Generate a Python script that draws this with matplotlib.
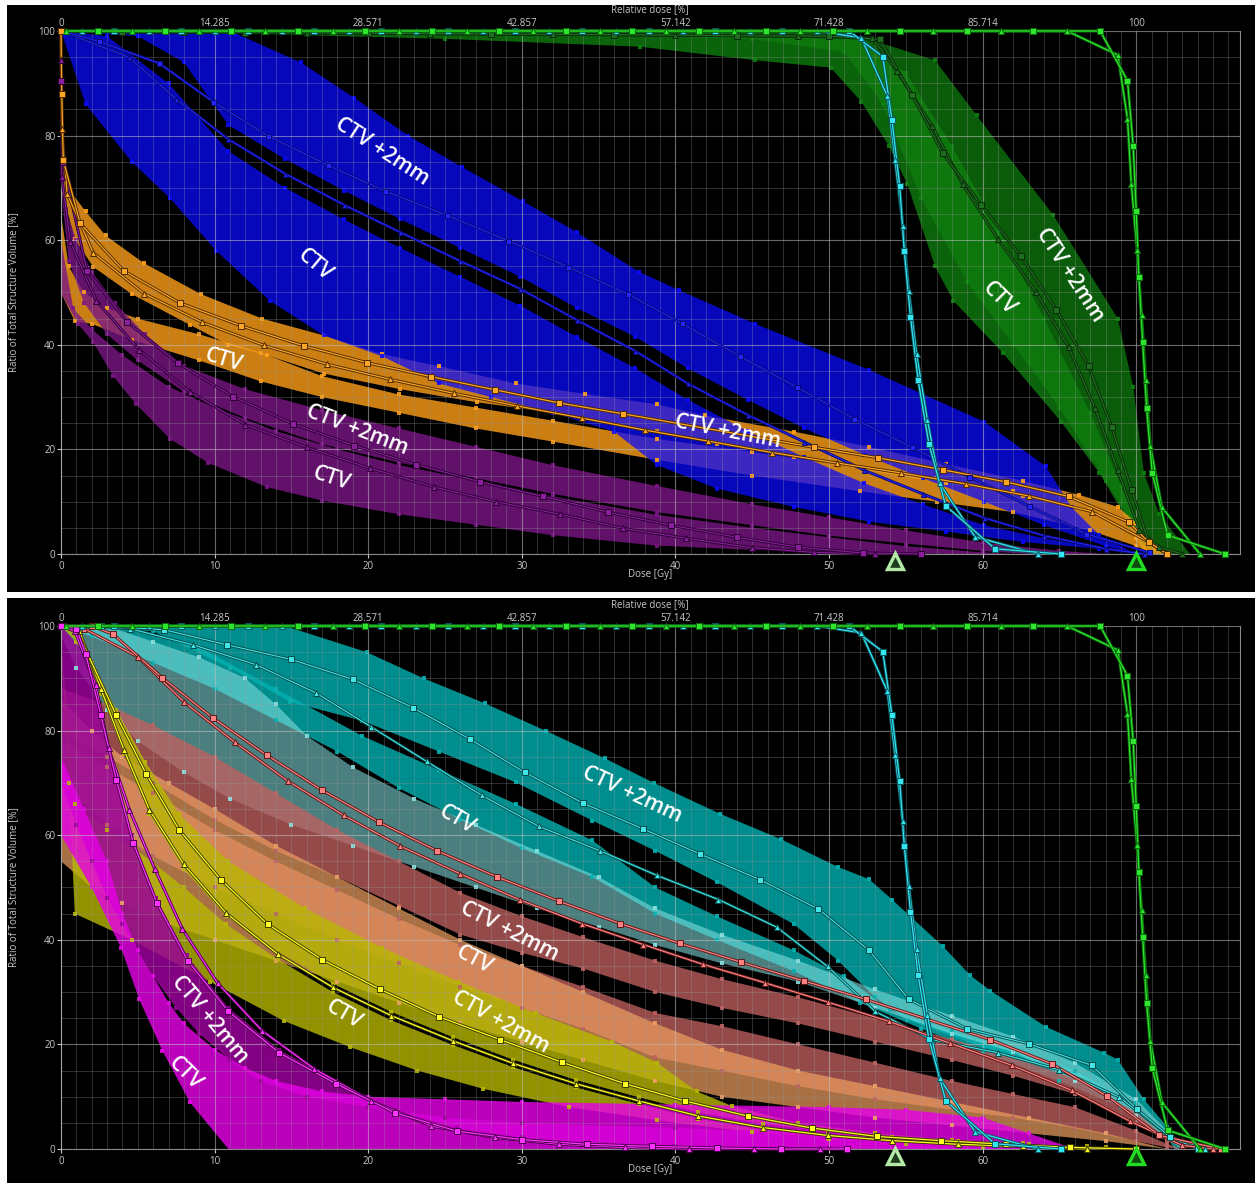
import numpy as np
import matplotlib.pyplot as plt
import matplotlib.patheffects as pe
from matplotlib.patches import Rectangle
from matplotlib.ticker import MultipleLocator

plt.rcParams['font.family'] = ['Open Sans', 'DejaVu Sans']

# ---------------- data: (dose Gy, volume %) ----------------
rel_ticks = [0, 14.285, 28.571, 42.857, 57.142, 71.428, 85.714, 100]
rel_labels = ['0', '14.285', '28.571', '42.857', '57.142', '71.428', '85.714', '100']
presc_doses = [54.3, 70.0]

# lines shared by both panels
green_sq = [(2.4, 100), (6.75, 100), (11.1, 100), (15.45, 100), (19.8, 100), (24.15, 100), (28.5, 100),
            (32.85, 100), (37.2, 100), (41.55, 100), (45.9, 100), (50.25, 100), (54.6, 100), (58.95, 100),
            (63.3, 100), (67.65, 100), (69.43, 90.5), (69.8, 78), (70.0, 65.5), (70.17, 53), (70.42, 40.5),
            (70.67, 28), (71.04, 15.5), (72.04, 3.6), (75.77, 0)]
green_tri = [(0.3, 100), (4.6, 100), (9.0, 100), (13.3, 100), (17.7, 100), (22.0, 100), (26.4, 100),
             (30.7, 100), (35.1, 100), (39.4, 100), (43.8, 100), (48.1, 100), (52.5, 100), (56.8, 100),
             (61.2, 100), (65.5, 100), (68.8, 95.4), (69.43, 83.2), (69.68, 70.7), (70.05, 58.2),
             (70.35, 45.7), (70.62, 33.2), (70.92, 20.7), (71.67, 8.9), (74.15, 0)]
cyan_sq = [(3.45, 100), (7.8, 100), (12.15, 100), (16.5, 100), (20.85, 100), (25.2, 100), (29.55, 100),
           (33.9, 100), (38.25, 100), (42.6, 100), (46.95, 100), (51.3, 100), (53.5, 95.1), (54.1, 82.9),
           (54.6, 70.4), (54.9, 57.9), (55.3, 45.4), (55.8, 33.2), (56.5, 21.1), (57.6, 9.2), (60.8, 1),
           (65.1, 0)]
cyan_tri = [(1.35, 100), (5.7, 100), (10.05, 100), (14.4, 100), (18.75, 100), (23.1, 100), (27.45, 100),
            (31.8, 100), (36.15, 100), (40.5, 100), (44.85, 100), (49.2, 100), (52.1, 98.7), (53.8, 87.5),
            (54.3, 75.3), (54.8, 62.8), (55.2, 50.3), (55.7, 38.2), (56.4, 25.7), (57.2, 13.5), (59.5, 3.3),
            (63.6, 0)]

# top panel lines
dkgreen_sq = [(0, 100), (4, 99.8), (12, 99.7), (20, 99.6), (28, 99.4), (36, 99.3), (44, 99.1), (50, 99),
              (53.3, 98.4), (55.4, 87.8), (57.4, 76.6), (59.9, 66.8), (62.5, 56.9), (64.8, 46.7),
              (66.9, 35.9), (68.4, 24.3), (69.7, 12.2), (70.8, 2.3), (72, 0)]
dkgreen_tri = [(0, 100), (8, 99.8), (16, 99.6), (24, 99.5), (32, 99.4), (40, 99.2), (48, 99), (52.8, 98.7),
               (54.4, 92.4), (56.7, 81.9), (58.7, 70.7), (61, 60.2), (63.5, 50), (65.6, 39.5), (67.3, 28),
               (68.8, 16), (70.2, 4.6), (71.5, 1.3), (73, 0)]
blue_sq = [(0, 100), (2.5, 98), (6.4, 93.8), (9.9, 86.5), (13.5, 79.9), (17.4, 74.3), (21.1, 69.4),
           (25.1, 64.8), (29.1, 59.9), (33, 54.9), (36.9, 49.7), (40.4, 44.1), (44.2, 37.8), (47.9, 31.9),
           (51.6, 25.9), (55.4, 20.4), (59.1, 14.8), (63, 9.2), (66.7, 3.9), (70.8, 0.3)]
blue_tri = [(0, 100), (4.4, 95), (7.5, 87), (10.9, 79.3), (14.6, 72.7), (18.4, 66.8), (22.1, 61.5),
            (26, 56), (29.9, 50.7), (33.6, 44.7), (37.4, 38.8), (40.8, 32.6), (44.7, 26.6), (48.4, 21.4),
            (52.3, 16), (56.1, 11.5), (60.1, 6.9), (64, 3.5), (68, 1), (70.5, 0)]
orange_sq = [(0, 100), (0.05, 88), (0.15, 75.3), (1.25, 63.2), (4.1, 54.1), (7.75, 48), (11.75, 43.6),
             (15.8, 39.8), (19.9, 36.6), (24.1, 33.9), (28.25, 31.4), (32.4, 28.9), (36.6, 26.8), (49, 20.4),
             (53.2, 18.4), (57.4, 16.1), (61.5, 13.8), (65.6, 11), (69.5, 6.1), (70.8, 2.3), (72, 0)]
orange_tri = [(0, 100), (0.05, 81.3), (0.4, 68.9), (2.1, 57.6), (5.4, 49.8), (9.2, 44.3), (13.2, 39.9),
              (17.3, 36.3), (21.4, 33.4), (25.6, 30.7), (29.7, 28.3), (33.9, 26), (38, 23.7), (42.1, 21.6),
              (46.3, 19.4), (50.5, 17.4), (54.7, 15.5), (58.9, 13.4), (63, 11.1), (67.1, 8.1), (70.8, 2.3),
              (72, 0)]
purple_sq = [(0, 100), (0.02, 90.5), (0.1, 75), (1.7, 54.1), (4.3, 44.4), (7.6, 36.5), (11.2, 30.1),
             (15.1, 24.9), (19.1, 20.7), (23.1, 17.1), (27.3, 13.8), (31.4, 11), (35.6, 8), (39.7, 5.5),
             (44, 3.2), (48, 1.3), (52.2, 0.2), (56, 0)]
purple_tri = [(0, 100), (0.02, 94.4), (0.05, 72), (0.6, 59.7), (2.3, 48.4), (5.1, 39), (8.4, 31), (12, 24.7),
              (16, 20.4), (20.1, 16.4), (24.3, 12.8), (28.3, 10), (32.5, 7.6), (36.6, 4.9), (40.7, 3),
              (45, 1.2), (49, 0.3), (53, 0)]

# top panel bands (upper edge, lower edge)
green_ctv_up = [(0, 100), (45, 99.5), (52, 98.5), (55, 92), (58, 78), (61, 62), (64, 45), (67, 27), (69, 13),
                (70.5, 4), (71.5, 0)]
green_ctv_lo = [(0, 100), (12, 99.5), (25, 98.5), (37.7, 97), (45.2, 94.4), (50.1, 93), (52.1, 86.5),
                (53.9, 78), (55.1, 70.7), (56.9, 55), (58.1, 48.4), (61.3, 38.5), (65.1, 25.3), (67.6, 15.5),
                (69.6, 5.6), (70.5, 0)]
green_p2_up = [(0, 100), (50.9, 100), (56.9, 94.4), (59.6, 83.9), (64.6, 64.8), (68.8, 45), (69.8, 32),
               (70.5, 15.5), (71.5, 7.6), (73.5, 0)]
green_p2_lo = [(0, 100), (30, 99.5), (45, 98.5), (51, 96), (53.5, 86), (56, 68), (59, 52), (62, 40),
               (65, 28), (68, 14), (70, 5), (71.5, 0)]
blue_p2_up = [(0, 100), (11.4, 99.5), (15.6, 94), (19.1, 87.2), (22.6, 80), (26.1, 74), (30.1, 67.4),
              (33.6, 61.5), (37.6, 54), (40.2, 50.5), (45.2, 44), (52.6, 35.2), (60.1, 25.3), (64.1, 16.8),
              (65.8, 8.9), (67.6, 3.6), (70, 0)]
blue_p2_lo = [(0, 100), (5, 99), (8, 94), (10.9, 82), (14.6, 75.5), (18.4, 69.5), (22.1, 64), (26, 58.5),
              (29.9, 53), (33.6, 47), (37.4, 41.5), (40.8, 35.5), (44.7, 29.5), (48.4, 24), (52.3, 19),
              (56.1, 14.5), (60.1, 10), (64, 5.5), (68, 1.5), (70, 0)]
blue_ctv_up = [(0, 100), (3, 99), (7, 90), (10.9, 77), (14.6, 70), (18.4, 64), (22.1, 58.5), (26, 53),
               (29.9, 47.5), (33.6, 41.5), (37.4, 35.5), (40.8, 29.5), (44.7, 23.5), (48.4, 18.5),
               (52.3, 13.5), (56.1, 9.5), (60.1, 5.5), (64, 3), (68, 1), (70.5, 0)]
blue_ctv_lo = [(0, 100), (1.6, 86), (4.6, 75), (7.1, 68), (10.1, 58), (13.6, 48.4), (17.1, 41.8),
               (20.9, 37.8), (24.6, 32.6), (28, 30), (32, 27), (36, 23.4), (38.8, 17), (42.7, 12.5),
               (47.7, 9), (52.6, 6.2), (57.6, 4.3), (62.6, 2.3), (67.6, 1), (70.8, 0)]
orange_p2_up = [(0, 100), (0.05, 75), (0.6, 69.4), (1.6, 65.5), (2.9, 60.9), (5.4, 55.6), (9.1, 49.7),
                (13.1, 45), (17.1, 41.8), (20.9, 38.2), (24.6, 35.9), (29.6, 32.6), (34.1, 30.6),
                (38.8, 28.6), (41.9, 26.5), (47.7, 23.4), (52.6, 20.5), (57.6, 17.2), (62.6, 14),
                (66.3, 11.3), (68.8, 9), (70, 6), (71.3, 1), (72, 0)]
orange_p2_lo = [(0, 100), (0.1, 69), (0.9, 60.2), (2.1, 54.9), (4.6, 49.7), (8.4, 43.8), (10.9, 40),
                (13.4, 38), (17.1, 34.5), (22.1, 31.5), (27.1, 29), (32.1, 27), (38.8, 23.5), (42.7, 21),
                (47.7, 18.5), (52.6, 16), (57.6, 13.5), (62.6, 11), (67.6, 7.5), (70, 3), (70.8, 0)]
orange_ctv_up = [(0, 65), (0.5, 55), (1.5, 50), (3, 47), (5, 45), (9, 42), (13, 38.5), (17, 34), (22, 30.5),
                 (27, 28), (32, 25.5), (38.8, 22), (45, 19.5), (52, 16.5), (57, 14.5), (62, 12), (67, 8.5),
                 (70, 3), (71, 0)]
orange_ctv_lo = [(0, 50), (0.9, 44.5), (2, 44), (4.6, 41), (9, 37), (13, 33), (17, 30), (22, 27), (27, 24),
                 (32, 21.5), (38.8, 18), (45, 15), (52, 12), (57, 10), (62, 8), (67, 4.5), (70, 1.5), (71, 0)]
purple_p2_up = [(0, 82), (0.3, 66), (1, 60), (2, 54), (3.5, 48), (5.5, 42), (8, 36), (12, 31.5), (17, 27.5),
                (22, 24), (27, 20.5), (32, 17), (38.8, 13), (45, 9.5), (50, 7), (55, 4.5), (60, 2.2),
                (65, 0.6), (68, 0)]
purple_p2_lo = [(0, 70), (0.5, 56), (1.5, 48), (3, 42), (5, 37), (8, 31), (12, 26), (17, 21), (22, 17.5),
                (27, 14.5), (32, 11.5), (38.8, 8), (45, 5.5), (50, 3.5), (55, 2), (60, 0.6), (63, 0)]
purple_ctv_up = [(0, 60), (0.8, 47), (2, 43), (4, 38), (7, 32), (10, 28), (14, 23.5), (18, 20), (22, 17),
                 (27, 14), (32, 11), (38.8, 7.5), (45, 5), (50, 3.2), (55, 1.5), (60, 0.3), (62, 0)]
purple_ctv_lo = [(0, 50), (1.1, 44), (2.1, 40.5), (3.4, 34), (4.9, 28.6), (7.1, 22), (9.6, 17.4),
                 (13.4, 12.8), (17, 10.2), (22, 7.6), (27, 5.6), (32, 3.6), (38.8, 1.6), (45, 0.8),
                 (52, 0.3), (58, 0)]

# bottom panel lines
cyan2_sq = [(0, 100), (2.6, 100), (6.7, 99.3), (10.8, 96.4), (15, 93.6), (19, 89.8), (22.9, 84.4),
            (26.6, 78.4), (30.2, 72), (34, 66.1), (37.9, 61.2), (41.6, 56.4), (45.5, 51.5), (49.3, 45.9),
            (52.6, 38), (55.2, 28.6), (59, 23), (63, 20.1), (67.1, 16), (70.05, 7.6), (72.2, 2.3), (74, 0)]
cyan2_tri = [(0, 100), (4.5, 99.5), (8.6, 96.4), (12.7, 92.6), (16.6, 87.2), (20.2, 80.7), (23.8, 74.1),
             (27.4, 67.6), (31.1, 61.7), (35.1, 57), (38.8, 52.3), (42.8, 47.7), (46.6, 42.4), (49.9, 34.9),
             (53, 26.3), (56.7, 20.9), (61, 18.4), (65, 15.1), (68.9, 9.9), (72.2, 2.3), (74.5, 0)]
salmon_sq = [(0, 100), (2, 100), (3.4, 98.4), (6.6, 90.1), (9.9, 82.4), (13.4, 75.3), (17, 68.6), (20.7, 62.5),
             (24.5, 57), (28.4, 52), (32.4, 47.4), (36.4, 43.1), (40.3, 39.3), (44.3, 35.7), (48.4, 32.1),
             (52.4, 28.6), (60.5, 20.9), (64.5, 16.3), (68.1, 10.1), (71.5, 2.6), (75.5, 0)]
salmon_tri = [(0, 100), (1.5, 99.5), (5, 94.1), (8, 85.5), (11.3, 77.8), (14.75, 70.4), (18.4, 63.8),
              (22.1, 57.9), (26, 52.6), (29.9, 47.6), (33.9, 43.1), (37.9, 39.1), (41.8, 35.3), (45.8, 31.8),
              (49.9, 28.1), (53.9, 24.4), (57.9, 20.2), (61.9, 16), (65.8, 11.2), (69.6, 5.3), (73, 0.7),
              (75, 0)]
yellow_sq = [(0, 100), (1, 99.3), (3.6, 82.9), (5.55, 71.7), (7.7, 61), (10.4, 51.5), (13.45, 43), (17, 36.2),
             (20.8, 30.5), (24.6, 25.3), (28.6, 20.9), (32.6, 16.6), (36.7, 12.5), (40.6, 9.2), (44.7, 6.3),
             (48.9, 4), (53.1, 2.4), (57.3, 1.6), (61.5, 0.9), (65.7, 0.3), (70, 0)]
yellow_tri = [(0, 100), (1.2, 99), (2.6, 88), (4.1, 76.3), (5.75, 64.9), (8, 54.4), (10.75, 45.1),
              (14.1, 37.3), (17.7, 30.9), (21.5, 25.5), (25.5, 20.7), (29.4, 16.4), (33.5, 12.5), (37.6, 9.2),
              (41.5, 6.3), (45.7, 4.1), (49.9, 2.6), (54.1, 1.6), (58.4, 0.9), (62.6, 0.5), (66.8, 0)]
magenta_sq = [(0, 100), (1.0, 99.5), (1.6, 94.7), (2.6, 82.9), (3.6, 70.6), (4.7, 58.6), (6.25, 47),
              (8.25, 36), (10.9, 26.3), (14.2, 18.4), (17.9, 12.5), (21.75, 6.9), (25.8, 3.4), (30, 1.8),
              (34.25, 0.9), (38.5, 0.5), (42.7, 0.2), (46.9, 0), (51.2, 0)]
magenta_tri = [(0, 100), (0.9, 99), (2.25, 88.8), (3.1, 76.6), (4.45, 64.9), (6.1, 53.6), (7.9, 42.1),
               (10.2, 31.7), (13.1, 22.6), (16.5, 15.3), (20.2, 9.2), (24.1, 4.4), (28.25, 2.2), (32.45, 0.9),
               (36.7, 0.3), (40.9, 0), (45.1, 0), (49.4, 0)]

# bottom panel bands
teal_p2_up = [(0, 100), (14.6, 100), (19.9, 95), (23.6, 90), (27.6, 85.2), (31.6, 79.9), (35.4, 74.7),
              (38.6, 70), (42.9, 64.1), (46.9, 59.2), (50.6, 53.9), (52.6, 51.6), (54.1, 47.7), (57.4, 38.8),
              (59.2, 33.2), (60.5, 30.3), (64.1, 23.4), (67.9, 18.4), (68.8, 17.1), (70.5, 9.5), (72, 4.3),
              (73, 0)]
teal_p2_lo = [(0, 100), (6, 99), (11, 92), (14.9, 85.5), (19.6, 81.9), (24.6, 76), (29.6, 70.1), (34.6, 62.8),
              (38.7, 57), (42.7, 51), (47.7, 43), (50.6, 36), (53, 29), (55.1, 24.7), (60.1, 19.4),
              (65.1, 14.8), (70, 8.9), (72, 2.3), (72.5, 0)]
teal_ctv_up = [(0, 100), (4, 100), (9, 96), (14, 88), (19.6, 79), (24.6, 72.5), (29.6, 66), (34.6, 59),
               (38.7, 50), (42.7, 44.5), (47.7, 38), (51, 33), (54, 26.5), (58, 22.5), (62, 19), (66, 15),
               (70, 8.5), (72, 3), (73, 0)]
teal_ctv_lo = [(0, 100), (2, 98), (6, 93), (10, 88), (14, 82), (18, 76), (22, 69), (26, 63), (30, 57.5),
               (34.6, 52), (38.7, 45), (42.7, 40), (47.7, 34), (52, 28), (56, 23), (60, 18.5), (65, 13),
               (69, 8), (72, 2), (73, 0)]
ltcyan_up = [(0, 100), (3, 100), (6, 97), (9, 94), (12, 90), (14, 85), (16, 79), (19, 73), (23, 67), (27, 62),
             (31, 57), (35, 52), (38.7, 46), (43, 41), (48, 36), (53, 30.5), (58, 25.5), (62, 21.5),
             (66, 16.5), (70, 9.5), (72, 3.5), (73, 0)]
ltcyan_lo = [(0, 98), (1, 92), (3, 84), (5, 78), (8, 72), (11, 67), (15, 62), (19, 58), (23, 54), (27, 50),
             (31, 46), (35, 42.5), (38.7, 39), (43, 35.5), (48, 32), (53, 27), (58, 22), (62, 18.5),
             (66, 13), (70, 6.5), (72, 2), (73, 0)]
salmon_p2_up = [(0, 88), (3, 85), (6, 81), (10, 75), (14, 68), (18, 61), (22, 55), (26, 49), (30, 44.5),
                (34, 40.5), (38.7, 36), (43, 32.5), (48, 29), (53, 25), (58, 21), (62, 17.5), (66, 13.5),
                (70, 7), (72, 2), (73.5, 0)]
salmon_p2_lo = [(0, 80), (3, 75), (6, 70), (10, 63), (14, 57), (18, 52), (22, 46.5), (26, 41), (30, 37.5),
                (34, 34.5), (38.7, 30), (43, 27), (48, 24), (53, 20.5), (58, 17), (62, 14), (66, 10.5),
                (70, 5), (72, 1.5), (73.5, 0)]
salmon_ctv_up = [(0, 78), (3, 73), (6, 68), (10, 61), (14, 55), (18, 49.5), (22, 44), (26, 39), (30, 35),
                 (34, 31), (38.7, 26), (43, 23.5), (48, 20), (53, 16.5), (58, 13), (62, 10.5), (66, 8),
                 (70, 3.5), (72, 1), (73, 0)]
salmon_ctv_lo = [(0, 70), (3, 62), (6, 56), (10, 50), (14, 45), (18, 40), (22, 35.5), (26, 31), (30, 27),
                 (34, 23), (38.7, 17.5), (43, 15), (48, 12), (53, 9.5), (58, 7.5), (62, 6), (66, 4),
                 (70, 1.5), (72, 0.3), (73, 0)]
peach_up = [(0, 86), (2, 80), (4, 75), (7, 70), (10, 65), (14, 58), (18, 52), (22, 46), (26, 40), (30, 35),
            (34, 30), (38.7, 24), (43, 19), (48, 15), (53, 12), (58, 9), (63, 6), (68, 3), (72, 0)]
peach_lo = [(0, 55), (2, 50), (4, 47), (7, 43), (10, 40), (14, 36), (18, 32), (22, 28), (26, 24), (30, 20.5),
            (34, 17), (38.7, 13), (43, 10), (48, 8), (53, 6), (58, 4.5), (63, 3), (68, 1.5), (72, 0)]
yellow_p2_up = [(0, 100), (1, 99), (2, 93), (3.6, 84), (5.5, 74), (7.7, 64), (10.9, 55), (15.9, 46),
                (20.9, 38.5), (25.9, 32), (30.9, 26), (35.9, 20.5), (38.8, 16.5), (41.4, 11), (43.7, 8.2),
                (48, 5), (53, 3), (58, 1.8), (63, 1), (68, 0.3), (70, 0)]
yellow_p2_lo = [(0, 100), (1, 97), (2.6, 87), (4.1, 75.5), (5.75, 64), (8, 53.5), (10.75, 44.5), (14.1, 37.8),
                (17.7, 31.6), (21.5, 26.2), (25.5, 21.4), (29.4, 17.1), (33.5, 13.2), (37.6, 9.9), (41.5, 7),
                (45.7, 4.8), (49.9, 3.3), (54.1, 2.3), (58.4, 1.6), (62.6, 1.1), (66.8, 0.5), (70, 0)]
yellow_ctv_up = [(0, 97), (0.9, 66), (3, 61), (5.9, 55), (8, 50), (10.75, 43), (14.1, 36.3), (17.7, 30),
                 (21.5, 24.6), (25.5, 19.9), (29.4, 15.7), (33.5, 11.8), (37.6, 8.6), (41.5, 5.8), (45.7, 3.6),
                 (49.9, 2.1), (54.1, 1.1), (58.4, 0.5), (62, 0)]
yellow_ctv_lo = [(0, 97), (0.5, 70), (0.9, 45), (4.6, 40), (9.7, 32), (14.5, 24.5), (18.8, 19.5), (23.2, 15),
                 (27.5, 11.5), (33.1, 8), (38.8, 5.5), (45, 3.2), (50, 2), (55, 1), (60, 0.4), (62, 0)]
magenta_p2_up = [(0, 100), (1.5, 95), (2.5, 84), (3.5, 72), (4.6, 60), (6.2, 48), (8.2, 37), (10.9, 27),
                 (14.2, 19), (17.9, 13), (21.75, 7.5), (25.8, 4), (30, 2.2), (34, 1.2), (40, 0.5), (50, 0.2),
                 (55, 0)]
magenta_p2_lo = [(0, 70), (1, 62), (2, 55), (3, 48), (4, 43), (5, 38), (6, 33), (7.5, 27), (9, 22), (11, 17),
                 (13, 13), (16, 10), (20, 8), (25, 6), (30, 5), (40, 4), (50, 3), (60, 1.5), (64, 0)]
magenta_ctv_up = [(0, 75), (1.5, 65), (3, 55), (4, 45), (5, 38), (6, 33), (7, 28), (8, 24), (10, 19),
                  (12, 15.5), (14, 13), (17, 11), (20, 10), (25, 9.5), (30, 9), (40, 8.5), (50, 8), (55, 7.5),
                  (60, 6), (63, 3), (66, 0)]
magenta_ctv_lo = [(0, 60), (2, 50), (3.9, 38.5), (5.1, 28.6), (6.6, 18.8), (8.4, 8.9), (10.9, 0)]

# ---------------- drawing helpers ----------------
TXT = '#c8c8c8'


def band(ax, up, lo, color, alpha=0.78):
    u = np.array(up, float)
    l = np.array(lo, float)
    ax.fill(np.r_[u[:, 0], l[::-1, 0]], np.r_[u[:, 1], l[::-1, 1]], color=color, alpha=alpha, lw=0, zorder=1)
    # small outline markers on the band edges, as the planning software draws them
    for e in (u, l):
        ax.plot(e[1:-1, 0], e[1:-1, 1], ls='none', marker='s', ms=2.4, mew=0, color=color, alpha=0.9, zorder=1.5)


def dvh(ax, pts, color, edge, marker, ms=4.6, lw=0.9, z=4):
    p = np.array(pts, float)
    ax.plot(p[:, 0], p[:, 1], color=color, lw=lw, zorder=z, clip_on=False,
            path_effects=[pe.Stroke(linewidth=lw + 1.3, foreground=edge), pe.Normal()])
    ax.plot(p[:, 0], p[:, 1], ls='none', marker=marker, ms=ms, mfc=color, mec=edge, mew=0.7,
            zorder=z + 0.1, clip_on=False)


def label(ax, d, v, s, rot):
    ax.text(d, v, s, rotation=rot, rotation_mode='anchor', ha='center', va='center', color='white',
            fontsize=15, fontweight='semibold', zorder=8)


def setup(ax):
    ax.set_facecolor('black')
    ax.set_xlim(0, 76.75)
    ax.set_ylim(0, 100)
    ax.xaxis.set_major_locator(MultipleLocator(10))
    ax.xaxis.set_minor_locator(MultipleLocator(1))
    ax.yaxis.set_major_locator(MultipleLocator(20))
    ax.yaxis.set_minor_locator(MultipleLocator(5))
    ax.set_axisbelow(False)
    ax.grid(which='minor', color='#9a9a9a', lw=0.6, alpha=0.35, zorder=2)
    ax.grid(which='major', color='#c0c0c0', lw=0.8, alpha=0.55, zorder=2)
    ax.spines['top'].set_visible(False)
    for s in ['left', 'bottom', 'right']:
        ax.spines[s].set_color('#8a8a8a')
        ax.spines[s].set_linewidth(0.8)
    ax.tick_params(which='major', colors=TXT, labelsize=7, length=3, width=0.8, pad=2)
    ax.tick_params(which='minor', length=0)
    ax.tick_params(axis='y', pad=1)
    sec = ax.secondary_xaxis('top', functions=(lambda d: d / 70 * 100, lambda r: r * 70 / 100))
    sec.set_xticks(rel_ticks, rel_labels)
    sec.tick_params(colors=TXT, labelsize=7, length=0, pad=1.5)
    sec.spines['top'].set_visible(False)
    ax.text(0.4996, 1.041, 'Relative dose [%]', transform=ax.transAxes, ha='center', va='center',
            color=TXT, fontsize=7)
    ax.text(0.4996, -0.039, 'Dose [Gy]', transform=ax.transAxes, ha='center', va='center',
            color=TXT, fontsize=7)
    ax.text(-0.0402, 0.5, 'Ratio of Total Structure Volume [%]', transform=ax.transAxes, ha='center',
            va='center', rotation=90, color=TXT, fontsize=7)


def shared_lines(ax):
    dvh(ax, cyan_tri, '#33e6f0', '#0b5560', '^', z=5)
    dvh(ax, cyan_sq, '#33e6f0', '#0b5560', 's', z=5)
    dvh(ax, green_tri, '#2ee62e', '#0b6a0b', '^', z=5.5)
    dvh(ax, green_sq, '#2ee62e', '#0b6a0b', 's', z=5.5)
    for d, fc, ec in zip(presc_doses, ['#1d3a1d', '#0d4d0d'], ['#b4eaa8', '#22dd22']):
        ax.plot([d], [-1.3], marker='^', ms=12, mfc=fc, mec=ec, mew=2.4, clip_on=False, zorder=9)


# ---------------- figure ----------------
fig = plt.figure(figsize=(12.55, 11.83), dpi=100)
fig.patch.set_facecolor('white')
fig.add_artist(Rectangle((0.0056, 0.4996), 0.9944, 0.4962, transform=fig.transFigure,
                         facecolor='black', edgecolor='none', zorder=-10))
fig.add_artist(Rectangle((0.0056, 0.0), 0.9944, 0.4945, transform=fig.transFigure,
                         facecolor='black', edgecolor='none', zorder=-10))

ax1 = fig.add_axes([0.0486, 0.5317, 0.9394, 0.4421])
ax2 = fig.add_axes([0.0486, 0.02874, 0.9394, 0.4421])
setup(ax1)
setup(ax2)

# top panel
band(ax1, green_ctv_up, green_ctv_lo, '#0f800f', 0.78)
band(ax1, green_p2_up, green_p2_lo, '#0f800f', 0.72)
band(ax1, orange_p2_up, orange_p2_lo, '#ffa019', 0.8)
band(ax1, orange_ctv_up, orange_ctv_lo, '#ffa019', 0.8)
band(ax1, blue_p2_up, blue_p2_lo, '#0a0aff', 0.74)
band(ax1, blue_ctv_up, blue_ctv_lo, '#0a0aff', 0.74)
band(ax1, purple_p2_up, purple_p2_lo, '#7a1686', 0.8)
band(ax1, purple_ctv_up, purple_ctv_lo, '#7a1686', 0.8)

dvh(ax1, dkgreen_tri, '#1f6e1f', '#0a2a0a', '^', ms=4.6, lw=0.9)
dvh(ax1, dkgreen_sq, '#1f6e1f', '#0a2a0a', 's', ms=4.6, lw=0.9)
dvh(ax1, blue_tri, '#2424ff', '#0a0a70', '^', ms=3.6, lw=0.8)
dvh(ax1, blue_sq, '#2424ff', '#0a0a70', 's', ms=3.6, lw=0.8)
dvh(ax1, purple_tri, '#8a1f9c', '#2a0030', '^', ms=3.8, lw=0.8)
dvh(ax1, purple_sq, '#8a1f9c', '#2a0030', 's', ms=4.2, lw=0.8)
dvh(ax1, orange_tri, '#ffa526', '#4a2a00', '^', ms=5)
dvh(ax1, orange_sq, '#ffa526', '#4a2a00', 's', ms=5)
shared_lines(ax1)

label(ax1, 20.9, 76.9, 'CTV +2mm', -33)
label(ax1, 16.5, 55.3, 'CTV', -40)
label(ax1, 10.6, 37.1, 'CTV', -17)
label(ax1, 19.3, 23.7, 'CTV +2mm', -21)
label(ax1, 17.6, 14.5, 'CTV', -18)
label(ax1, 43.4, 23.3, 'CTV +2mm', -11)
label(ax1, 61.1, 48.9, 'CTV', -45)
label(ax1, 65.7, 53.3, 'CTV +2mm', -57)

# bottom panel
band(ax2, teal_p2_up, teal_p2_lo, '#00b2b2', 0.8)
band(ax2, teal_ctv_up, teal_ctv_lo, '#00b2b2', 0.8)
band(ax2, ltcyan_up, ltcyan_lo, '#8ae6e6', 0.55)
band(ax2, salmon_p2_up, salmon_p2_lo, '#c06060', 0.78)
band(ax2, salmon_ctv_up, salmon_ctv_lo, '#c06060', 0.78)
band(ax2, peach_up, peach_lo, '#f0a060', 0.7)
band(ax2, yellow_p2_up, yellow_p2_lo, '#b8b800', 0.8)
band(ax2, yellow_ctv_up, yellow_ctv_lo, '#b8b800', 0.8)
band(ax2, magenta_p2_up, magenta_p2_lo, '#9a009a', 0.85)
band(ax2, magenta_ctv_up, magenta_ctv_lo, '#e600e6', 0.82)

dvh(ax2, cyan2_tri, '#40e6e6', '#0a4a4a', '^', lw=0.8)
dvh(ax2, cyan2_sq, '#40e6e6', '#0a4a4a', 's', lw=0.8)
dvh(ax2, salmon_tri, '#ff8080', '#5a1a1a', '^')
dvh(ax2, salmon_sq, '#ff8080', '#5a1a1a', 's')
dvh(ax2, yellow_tri, '#ffff22', '#3a3a00', '^')
dvh(ax2, yellow_sq, '#ffff22', '#3a3a00', 's')
dvh(ax2, magenta_tri, '#ff33ff', '#4a004a', '^')
dvh(ax2, magenta_sq, '#ff33ff', '#4a004a', 's')
shared_lines(ax2)

label(ax2, 37.2, 67.7, 'CTV +2mm', -25)
label(ax2, 25.8, 62.9, 'CTV', -30)
label(ax2, 29.2, 41.5, 'CTV +2mm', -27)
label(ax2, 26.9, 36.1, 'CTV', -28)
label(ax2, 28.6, 24.3, 'CTV +2mm', -29)
label(ax2, 18.4, 25.6, 'CTV', -30)
label(ax2, 9.7, 24.7, 'CTV +2mm', -50)
label(ax2, 8.1, 14.5, 'CTV', -45)

fig.savefig('out.png', dpi=100, facecolor='white')
